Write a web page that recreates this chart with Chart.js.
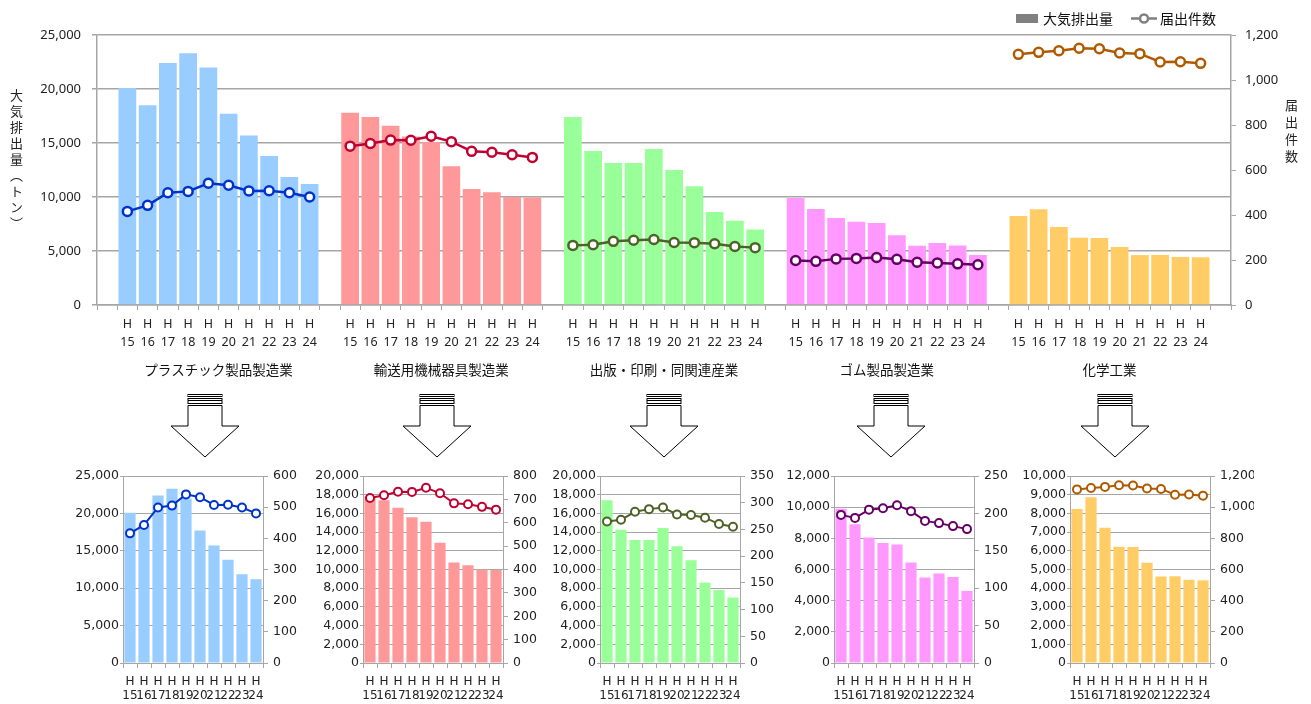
<!DOCTYPE html>
<html>
<head>
<meta charset="utf-8">
<script src="https://cdn.jsdelivr.net/npm/chart.js@4.4.0/dist/chart.umd.min.js"></script>
<style>
  body { margin: 0; background: #fff; width: 1311px; height: 704px; position: relative; overflow: hidden; font-family: "Noto Sans CJK JP", sans-serif; color: #222; }
  canvas { position: absolute; }
  .vtitle { position: absolute; writing-mode: vertical-rl; font-size: 13px; line-height: 13px; color: #222; }
  #arrows { position: absolute; left: 0; top: 0; }
</style>
</head>
<body>
<canvas id="mainChart" width="1311" height="390" style="left:0;top:0"></canvas>
<div class="vtitle" style="left:10px;top:89px;letter-spacing:3px">大気排出量（トン）</div>
<div class="vtitle" style="left:1285px;top:99px;letter-spacing:3.7px">届出件数</div>
<svg id="arrows" width="1311" height="704"></svg>
<canvas id="small0" width="248" height="244"></canvas>
<canvas id="small1" width="248" height="244"></canvas>
<canvas id="small2" width="248" height="244"></canvas>
<canvas id="small3" width="248" height="244"></canvas>
<canvas id="small4" width="248" height="244"></canvas>
<script>
// 年度・業種
var years = ['15', '16', '17', '18', '19', '20', '21', '22', '23', '24'];
var industries = ['プラスチック製品製造業', '輸送用機械器具製造業', '出版・印刷・同関連産業', 'ゴム製品製造業', '化学工業'];
var seriesNames = ['大気排出量', '届出件数'];

// 大気排出量（トン）
var emitPlastic = [20100, 18500, 22400, 23300, 22000, 17700, 15700, 13800, 11850, 11200];
var emitTransport = [17800, 17400, 16600, 15600, 15100, 12850, 10750, 10450, 10000, 9950];
var emitPrint = [17400, 14250, 13150, 13150, 14450, 12500, 11000, 8600, 7800, 7000];
var emitRubber = [9900, 8900, 8050, 7700, 7600, 6450, 5480, 5750, 5520, 4630];
var emitChem = [8240, 8870, 7230, 6220, 6200, 5360, 4620, 4640, 4450, 4420];

// 届出件数
var countPlastic = [416, 443, 499, 505, 541, 532, 507, 508, 499, 480];
var countTransport = [706, 718, 733, 732, 750, 726, 683, 679, 668, 656];
var countPrint = [265, 268, 283, 288, 291, 278, 277, 272, 260, 255];
var countRubber = [198, 194, 205, 207, 211, 203, 190, 187, 183, 179];
var countChem = [1114, 1123, 1130, 1141, 1139, 1120, 1117, 1080, 1081, 1074];

// 小グラフの右軸の上限・目盛
var smallEmitMax = [25000, 20000, 20000, 12000, 10000];
var smallEmitStep = [5000, 2000, 2000, 2000, 1000];
var smallCountMax = [600, 800, 350, 250, 1200];
var smallCountStep = [100, 100, 50, 50, 200];

var emitAll = [emitPlastic, emitTransport, emitPrint, emitRubber, emitChem];
var countAll = [countPlastic, countTransport, countPrint, countRubber, countChem];
var barColors = ['#99CCFF', '#FF9999', '#99FF99', '#FF99FF', '#FFCC66'];
var lineColors = ['#0033CC', '#C00030', '#4F6228', '#660066', '#B05A00'];

var fmt = function (v) { return Number(v).toLocaleString('en-US'); };
var gridColor = '#A6A6A6';
var textColor = '#222';

// 全体グラフ：業種の間に空きカテゴリを1つずつ挟む
var mainLabels = [''];
var groupStart = [];
industries.forEach(function (name, g) {
    groupStart.push(mainLabels.length);
    years.forEach(function (y) { mainLabels.push(['H', y]); });
    mainLabels.push('');
});

var barData = mainLabels.map(function () { return null; });
var barBg = mainLabels.map(function () { return 'rgba(0,0,0,0)'; });
var lineSets = [];
industries.forEach(function (name, g) {
    var lineData = mainLabels.map(function () { return null; });
    emitAll[g].forEach(function (v, i) {
        barData[groupStart[g] + i] = v;
        barBg[groupStart[g] + i] = barColors[g];
        lineData[groupStart[g] + i] = countAll[g][i];
    });
    lineSets.push({
        type: 'line',
        label: seriesNames[1],
        data: lineData,
        yAxisID: 'y2',
        borderColor: lineColors[g],
        borderWidth: 2.5,
        pointRadius: 4.5,
        pointBorderWidth: 2.5,
        pointBackgroundColor: '#fff',
        pointBorderColor: lineColors[g],
        spanGaps: false,
        order: 0
    });
});

// 凡例と業種名
var mainDecor = {
    id: 'mainDecor',
    afterDraw: function (chart) {
        var ctx = chart.ctx;
        var x = chart.scales.x;
        ctx.save();
        ctx.fillStyle = '#111';
        ctx.textAlign = 'center';
        ctx.textBaseline = 'middle';
        ctx.font = '13.5px "Noto Sans CJK JP"';
        industries.forEach(function (name, g) {
            var cx = (x.getPixelForValue(groupStart[g]) + x.getPixelForValue(groupStart[g] + 9)) / 2;
            ctx.fillText(name, cx, 370);
        });
        // 凡例
        ctx.textAlign = 'left';
        ctx.font = '14px "Noto Sans CJK JP"';
        ctx.fillStyle = '#808080';
        ctx.fillRect(1016, 14, 22, 9);
        ctx.fillStyle = '#111';
        ctx.fillText(seriesNames[0], 1043, 18.5);
        ctx.strokeStyle = '#808080';
        ctx.lineWidth = 2.5;
        ctx.beginPath();
        ctx.moveTo(1131, 18.5);
        ctx.lineTo(1157, 18.5);
        ctx.stroke();
        ctx.beginPath();
        ctx.arc(1144, 18.5, 4, 0, Math.PI * 2);
        ctx.fillStyle = '#fff';
        ctx.fill();
        ctx.stroke();
        ctx.fillStyle = '#111';
        ctx.fillText(seriesNames[1], 1160, 18.5);
        ctx.restore();
    }
};

new Chart(document.getElementById('mainChart'), {
    type: 'bar',
    data: {
        labels: mainLabels,
        datasets: [{
            label: seriesNames[0],
            data: barData,
            backgroundColor: barBg,
            yAxisID: 'y',
            barPercentage: 0.875,
            categoryPercentage: 1.0,
            order: 1
        }].concat(lineSets)
    },
    options: {
        responsive: false,
        animation: false,
        layout: { padding: { top: 35, left: 0, right: 0, bottom: 0 } },
        plugins: { legend: { display: false }, tooltip: { enabled: false } },
        scales: {
            x: {
                afterFit: function (s) { s.height = 85; },
                grid: { drawOnChartArea: false, tickLength: 5, color: gridColor, offset: true },
                border: { color: gridColor, width: 1.5 },
                ticks: {
                    autoSkip: false, maxRotation: 0, padding: 6, color: textColor,
                    font: { family: 'Noto Sans', size: 12.5, lineHeight: 1.42 }
                }
            },
            y: {
                position: 'left',
                min: 0, max: 25000,
                afterFit: function (s) { s.width = 97; },
                grid: { color: gridColor, lineWidth: 1.5, tickLength: 5 },
                border: { color: gridColor, width: 1.5 },
                ticks: { stepSize: 5000, padding: 11, color: textColor, callback: fmt, font: { family: 'Noto Sans', size: 13 } }
            },
            y2: {
                position: 'right',
                min: 0, max: 1200,
                afterFit: function (s) { s.width = 80; },
                grid: { drawOnChartArea: false, color: gridColor, tickLength: 5 },
                border: { color: gridColor, width: 1.5 },
                ticks: { stepSize: 200, padding: 9, color: textColor, callback: fmt, font: { family: 'Noto Sans', size: 13 } }
            }
        }
    },
    plugins: [mainDecor]
});

// 矢印
var arrowX = [205, 437, 664, 891, 1115];
var svg = document.getElementById('arrows');
var svgMarkup = '';
arrowX.forEach(function (cx) {
    svgMarkup += '<rect x="' + (cx - 17) + '" y="394.5" width="34" height="2" fill="#fff" stroke="#000" stroke-width="1"/>';
    svgMarkup += '<rect x="' + (cx - 17) + '" y="398.5" width="34" height="5" fill="#fff" stroke="#000" stroke-width="1"/>';
    svgMarkup += '<line x1="' + (cx - 17) + '" y1="400.5" x2="' + (cx + 17) + '" y2="400.5" stroke="#000" stroke-width="1"/>';
    svgMarkup += '<polygon points="' + [
        [cx - 17, 405.5], [cx + 17, 405.5], [cx + 17, 426], [cx + 34, 426],
        [cx, 457], [cx - 34, 426], [cx - 17, 426]
    ].map(function (p) { return p.join(','); }).join(' ') + '" fill="#fff" stroke="#000" stroke-width="1"/>';
});
svg.innerHTML = svgMarkup;

// 業種別の小グラフ
var smallPlotLeft = [123, 363, 600, 834, 1070];
var smallLabels = years.map(function (y) { return ['H', y]; });

industries.forEach(function (name, g) {
    var cv = document.getElementById('small' + g);
    cv.style.left = (smallPlotLeft[g] - 64) + 'px';
    cv.style.top = '460px';
    new Chart(cv, {
        type: 'bar',
        data: {
            labels: smallLabels,
            datasets: [{
                label: seriesNames[0],
                data: emitAll[g],
                backgroundColor: barColors[g],
                yAxisID: 'y',
                barPercentage: 0.8,
                categoryPercentage: 1.0,
                order: 1
            }, {
                type: 'line',
                label: seriesNames[1],
                data: countAll[g],
                yAxisID: 'y2',
                borderColor: lineColors[g],
                borderWidth: 2,
                pointRadius: 4,
                pointBorderWidth: 2,
                pointBackgroundColor: '#fff',
                pointBorderColor: lineColors[g],
                order: 0
            }]
        },
        options: {
            responsive: false,
            animation: false,
            layout: { padding: { top: 16, left: 0, right: 0, bottom: 0 } },
            plugins: { legend: { display: false }, tooltip: { enabled: false } },
            scales: {
                x: {
                    afterFit: function (s) { s.height = 41; },
                    grid: { drawOnChartArea: false, tickLength: 5, color: gridColor, offset: true },
                    border: { color: gridColor },
                    ticks: {
                        autoSkip: false, maxRotation: 0, padding: 6.5, color: textColor,
                        font: { family: 'DejaVu Sans', size: 12, lineHeight: 1.19 }
                    }
                },
                y: {
                    position: 'left',
                    min: 0, max: smallEmitMax[g],
                    afterFit: function (s) { s.width = 64; },
                    grid: { color: gridColor, tickLength: 3 },
                    border: { color: gridColor },
                    ticks: { stepSize: smallEmitStep[g], padding: 1, color: textColor, callback: fmt, font: { family: 'DejaVu Sans', size: 12.5 } }
                },
                y2: {
                    position: 'right',
                    min: 0, max: smallCountMax[g],
                    afterFit: function (s) { s.width = 44; },
                    grid: { drawOnChartArea: false, color: gridColor, tickLength: 5 },
                    border: { color: gridColor },
                    ticks: { stepSize: smallCountStep[g], padding: 5, color: textColor, callback: fmt, font: { family: 'DejaVu Sans', size: 12.5 } }
                }
            }
        }
    });
});
</script>
</body>
</html>
